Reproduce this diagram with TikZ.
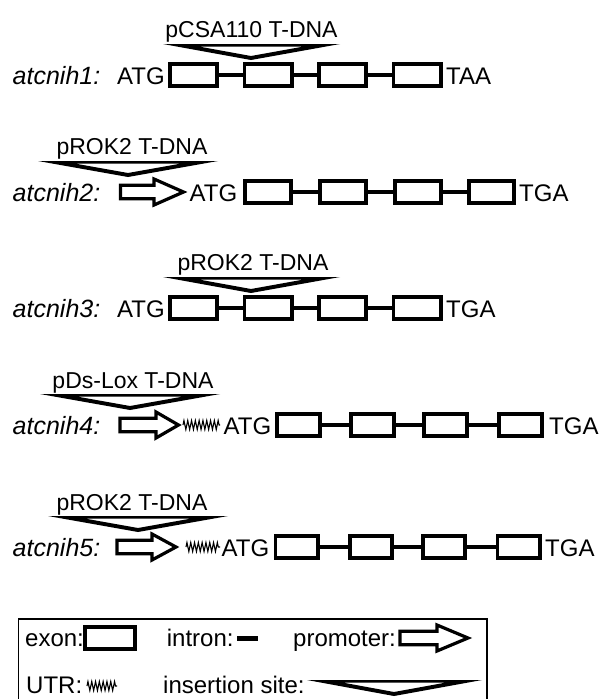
\documentclass[tikz,border=0pt]{standalone}
\usepackage{fontspec}
\setmainfont{Liberation Sans}
\usetikzlibrary{decorations.pathmorphing}
\tikzset{
 txt/.style={inner sep=0pt, anchor=base west, font=\fontsize{24}{28}\selectfont},
 gene/.style={inner sep=0pt, anchor=base west, font=\fontsize{25}{29}\selectfont\itshape},
 lbl/.style={inner sep=0pt, anchor=base, font=\fontsize{23}{27}\selectfont},
 exon/.style={draw, line width=3.7pt, minimum height=22.3pt, inner sep=0pt},
 intron/.style={line width=4pt},
 promline/.style={line width=3.2pt, line join=miter, miter limit=20},
 utr/.style={line width=1.1pt, decorate, decoration={zigzag, segment length=3.8pt, amplitude=4.5pt}},
}
% promoter arrow: x0, head start, tip, yc
\newcommand\promo[4]{%
 \draw[promline] (#1,#4-6.7) -- (#2,#4-6.7) -- (#2,#4-13) -- (#3,#4) -- (#2,#4+13) -- (#2,#4+6.7) -- (#1,#4+6.7) -- cycle;}
% insertion site: left, right, top, tip x  (depth 16, top bar 2.5, sides 4)
\newcommand\insite[4]{%
 \fill[even odd rule] (#1,#3) -- (#2,#3) -- (#4,#3+16) -- cycle
   ({#1+6.5*(#4-#1)/16},#3+2.5) -- ({#2-6.5*(#2-#4)/16},#3+2.5) -- (#4,#3+12) -- cycle;}
\begin{document}
\begin{tikzpicture}[x=1pt,y=-1pt]
\useasboundingbox (0,0) rectangle (600,699);
% ---------- row 1
\node[gene] (n1) at (12.5,84.5) {atcnih1:};
\node[txt] (s1) at (117,84.5) {ATG};
\foreach \i/\a/\b in {1/168/219,2/242.5/293.5,3/317/368,4/391.5/442.5}
  \node[exon, minimum width={\b-\a-3.7}] (r1e\i) at ({(\a+\b)/2},75) {};
\draw[intron] (r1e1.east) -- (r1e2.west) (r1e2.east) -- (r1e3.west) (r1e3.east) -- (r1e4.west);
\node[txt] (t1) at (446,84.5) {TAA};
\insite{163}{340}{44}{251}
\node[lbl] (d1) at (251.5,37) {pCSA110 T-DNA};
% ---------- row 2
\node[gene] (n2) at (12.5,201.5) {atcnih2:};
\promo{120.5}{154}{183.5}{192}
\node[txt] (s2) at (189.5,201.5) {ATG};
\foreach \i/\a/\b in {1/243/293,2/318/368,3/393/443,4/467/516}
  \node[exon, minimum width={\b-\a-3.7}] (r2e\i) at ({(\a+\b)/2},192) {};
\draw[intron] (r2e1.east) -- (r2e2.west) (r2e2.east) -- (r2e3.west) (r2e3.east) -- (r2e4.west);
\node[txt] (t2) at (519,201.5) {TGA};
\insite{38}{218}{161}{128}
\node[lbl] (d2) at (132,154) {pROK2 T-DNA};
% ---------- row 3
\node[gene] (n3) at (12.5,317.5) {atcnih3:};
\node[txt] (s3) at (117,317.5) {ATG};
\foreach \i/\a/\b in {1/168/219,2/242.5/293.5,3/317/368,4/391.5/442.5}
  \node[exon, minimum width={\b-\a-3.7}] (r3e\i) at ({(\a+\b)/2},308) {};
\draw[intron] (r3e1.east) -- (r3e2.west) (r3e2.east) -- (r3e3.west) (r3e3.east) -- (r3e4.west);
\node[txt] (t3) at (446,317.5) {TGA};
\insite{163}{340}{277}{251}
\node[lbl] (d3) at (253,270) {pROK2 T-DNA};
% ---------- row 4
\node[gene] (n4) at (12.5,434.5) {atcnih4:};
\promo{120}{156}{178.5}{425}
\coordinate (u4a) at (183,425);
\coordinate (u4b) at (220,425);
\draw[utr] (u4a) -- (u4b);
\node[txt] (s4) at (223.5,434.5) {ATG};
\foreach \i/\a/\b in {1/275/322,2/349/396,3/422/469,4/497/544}
  \node[exon, minimum width={\b-\a-3.7}] (r4e\i) at ({(\a+\b)/2},425) {};
\draw[intron] (r4e1.east) -- (r4e2.west) (r4e2.east) -- (r4e3.west) (r4e3.east) -- (r4e4.west);
\node[txt] (t4) at (549,434.5) {TGA};
\insite{40}{220}{394}{130}
\node[lbl] (d4) at (133,388) {pDs-Lox T-DNA};
% ---------- row 5
\node[gene] (n5) at (12.5,556.5) {atcnih5:};
\promo{117}{152}{176}{547}
\coordinate (u5a) at (186,547);
\coordinate (u5b) at (220,547);
\draw[utr] (u5a) -- (u5b);
\node[txt] (s5) at (221.5,556.5) {ATG};
\foreach \i/\a/\b in {1/273.5/319.5,2/348/394,3/421/467,4/495.5/541.5}
  \node[exon, minimum width={\b-\a-3.7}] (r5e\i) at ({(\a+\b)/2},547) {};
\draw[intron] (r5e1.east) -- (r5e2.west) (r5e2.east) -- (r5e3.west) (r5e3.east) -- (r5e4.west);
\node[txt] (t5) at (545,556.5) {TGA};
\insite{48}{228}{516}{138}
\node[lbl] (d5) at (132,510) {pROK2 T-DNA};
% ---------- legend
\draw[line width=1.3pt] (18.5,619) rectangle (487,720);
\node[txt] (lex) at (25,646.5) {exon:};
\node[exon, minimum width=50] (lexbox) at (110,638) {};
\node[txt] (lin) at (166.7,646.5) {intron:};
\coordinate (lina) at (237,638);
\coordinate (linb) at (258,638);
\draw[line width=5pt] (lina) -- (linb);
\node[txt] (lpr) at (293,646.5) {promoter:};
\promo{400}{437}{468}{638}
\node[txt] (lut) at (26,693.5) {UTR:};
\coordinate (luta) at (87,686);
\coordinate (lutb) at (117,686);
\draw[utr] (luta) -- (lutb);
\node[txt] (lis) at (163,693.5) {insertion site:};
\insite{307}{482}{680}{394}
\end{tikzpicture}
\end{document}
